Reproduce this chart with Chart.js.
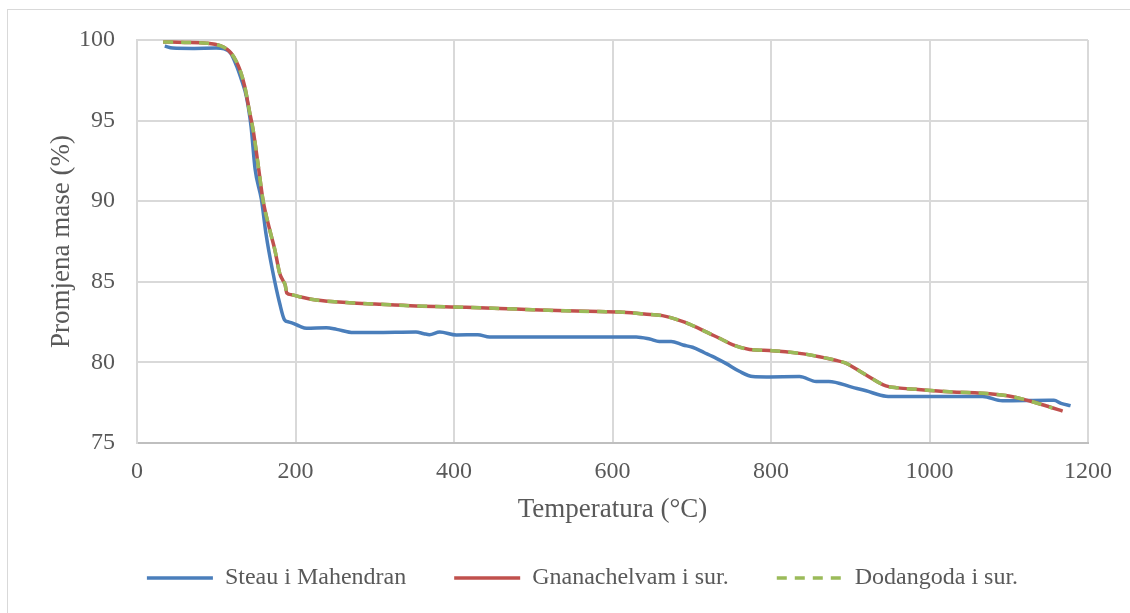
<!DOCTYPE html>
<html>
<head>
<meta charset="utf-8">
<script src="https://cdn.jsdelivr.net/npm/chart.js@4/dist/chart.umd.min.js"></script>
<style>
html,body{margin:0;padding:0;background:#fff;}
#wrap{position:relative;width:1130px;height:613px;}
</style>
</head>
<body>
<div id="wrap"><canvas id="c" width="1130" height="613"></canvas></div>
<script>
const xTicks = [0, 200, 400, 600, 800, 1000, 1200];
const yTicks = [75, 80, 85, 90, 95, 100];
const seriesNames = ["Steau i Mahendran", "Gnanachelvam i sur.", "Dodangoda i sur."];
const xTitle = "Temperatura (°C)";
const yTitle = "Promjena mase (%)";

const steauT = [35,45,70,100,110,118,126,132,138,144,149,157,163,171,180,186,192,197,205,214,239,252,273,300,352,362,369,382,403,430,445,500,583,630,647,659,674,689,701,716,731,743,760,777,794,836,857,873,903,920,945,960,1067,1092,1151,1157,1166,1178];
const steauVal = [99.62,99.5,99.48,99.5,99.45,99.2,98.35,97.5,96.5,94.6,92.0,90.1,87.9,85.7,83.67,82.65,82.5,82.42,82.25,82.12,82.15,82.05,81.85,81.85,81.88,81.78,81.72,81.88,81.7,81.72,81.57,81.57,81.57,81.58,81.45,81.3,81.3,81.08,80.94,80.6,80.25,79.94,79.45,79.12,79.1,79.12,78.82,78.82,78.45,78.24,77.9,77.88,77.88,77.62,77.65,77.65,77.46,77.32];

const gnanaT = [33,60,88,105,113,119,125,130,136,141.6,146.6,153,159,167.6,174,180,184,187,189,195,205,226,268,300,352,415,478,541,583,609,640,663,689,705,722,737,752,773,802,836,861,880,895,907,920,945,960,983,1025,1079,1100,1113,1130,1151,1168];
const gnanaVal = [99.88,99.85,99.8,99.65,99.45,99.17,98.7,98.14,97.1,95.66,94.4,92.2,90.07,88.2,86.97,85.53,85.1,84.8,84.3,84.2,84.07,83.87,83.7,83.62,83.5,83.42,83.31,83.2,83.15,83.13,83.0,82.9,82.53,82.2,81.8,81.45,81.08,80.8,80.73,80.56,80.35,80.15,79.94,79.6,79.22,78.54,78.42,78.33,78.18,78.04,77.92,77.78,77.56,77.25,76.98];

const dodangT = [33,60,88,105,113,119,125,130,136,141.6,146.6,153,159,167.6,174,180,184,187,189,195,205,226,268,300,352,415,478,541,583,609,640,663,689,705,722,737,752,773,802,836,861,880,895,907,920,945,960,983,1025,1079,1100,1113,1130,1155];
const dodangVal = [99.88,99.85,99.8,99.65,99.45,99.17,98.7,98.14,97.1,95.66,94.4,92.2,90.07,88.2,86.97,85.53,85.1,84.8,84.3,84.2,84.07,83.87,83.7,83.62,83.5,83.42,83.31,83.2,83.15,83.13,83.0,82.9,82.53,82.2,81.8,81.45,81.08,80.8,80.73,80.56,80.35,80.15,79.94,79.6,79.22,78.54,78.42,78.33,78.18,78.04,77.92,77.78,77.56,77.17];

const toPts = (xs, ys) => xs.map((x, i) => ({x: x, y: ys[i]}));

const FONT = "'Liberation Serif', 'Times New Roman', serif";
const TXT = '#595959';

const frame = {
  id: 'frame',
  beforeDraw(chart) {
    const ctx = chart.ctx;
    ctx.save();
    ctx.fillStyle = '#ffffff';
    ctx.fillRect(0, 0, chart.width, chart.height);
    ctx.strokeStyle = '#d9d9d9';
    ctx.lineWidth = 1;
    ctx.strokeRect(7.5, 9.5, 1200, 800);
    ctx.restore();
  }
};

new Chart(document.getElementById('c'), {
  type: 'line',
  data: {
    datasets: [
      {label: seriesNames[0], data: toPts(steauT, steauVal), borderColor: '#4a7ebb', backgroundColor: '#4a7ebb', borderWidth: 3.5, pointRadius: 0, cubicInterpolationMode: 'monotone', order: 3},
      {label: seriesNames[1], data: toPts(gnanaT, gnanaVal), borderColor: '#c0504d', backgroundColor: '#c0504d', borderWidth: 3.5, pointRadius: 0, cubicInterpolationMode: 'monotone', order: 2},
      {label: seriesNames[2], data: toPts(dodangT, dodangVal), borderColor: '#9bbb59', backgroundColor: '#9bbb59', borderWidth: 3.5, borderDash: [10, 8], pointRadius: 0, cubicInterpolationMode: 'monotone', order: 1}
    ]
  },
  options: {
    responsive: false,
    animation: false,
    devicePixelRatio: 1,
    layout: {padding: {left: 35, right: 0, top: 40, bottom: 13}},
    plugins: {
      tooltip: {enabled: false},
      legend: {
        position: 'bottom',
        labels: {
          usePointStyle: true,
          pointStyle: 'line',
          pointStyleWidth: 66,
          padding: 48,
          color: TXT,
          font: {family: FONT, size: 24},
          sort: (a, b) => a.datasetIndex - b.datasetIndex,
          generateLabels: (chart) => {
            const items = Chart.defaults.plugins.legend.labels.generateLabels(chart);
            items.forEach(it => {
              const ds = chart.data.datasets[it.datasetIndex];
              it.lineDash = ds.borderDash || [];
              it.lineWidth = ds.borderWidth;
              it.strokeStyle = ds.borderColor;
              it.pointStyle = 'line';
            });
            return items;
          }
        }
      }
    },
    scales: {
      x: {
        type: 'linear',
        min: 0, max: 1200,
        afterBuildTicks: s => { s.ticks = xTicks.map(v => ({value: v})); },
        afterFit: s => { s.height = 75; },
        grid: {color: '#d9d9d9', lineWidth: 2, drawTicks: false},
        border: {color: '#bfbfbf', width: 2},
        ticks: {color: TXT, font: {family: FONT, size: 24}, padding: 14, maxRotation: 0, callback: v => String(v)},
        title: {display: true, text: xTitle, color: TXT, font: {family: FONT, size: 27}, padding: {top: 0, bottom: -8}}
      },
      y: {
        type: 'linear',
        min: 75, max: 100,
        afterBuildTicks: s => { s.ticks = yTicks.map(v => ({value: v})); },
        afterFit: s => { s.width = 102; },
        grid: {color: '#d9d9d9', lineWidth: 2, drawTicks: false},
        border: {color: '#d9d9d9', width: 2},
        ticks: {color: TXT, font: {family: FONT, size: 24}, padding: 22, callback: v => String(v)},
        title: {display: true, text: yTitle, color: TXT, font: {family: FONT, size: 27}, padding: {top: 11, bottom: 0}}
      },
      y2: {
        type: 'linear',
        position: 'right',
        display: true,
        min: 75, max: 100,
        afterFit: s => { s.width = 42; },
        grid: {display: false, drawTicks: false},
        border: {display: false},
        ticks: {display: false}
      }
    }
  },
  plugins: [frame]
});
</script>
</body>
</html>
